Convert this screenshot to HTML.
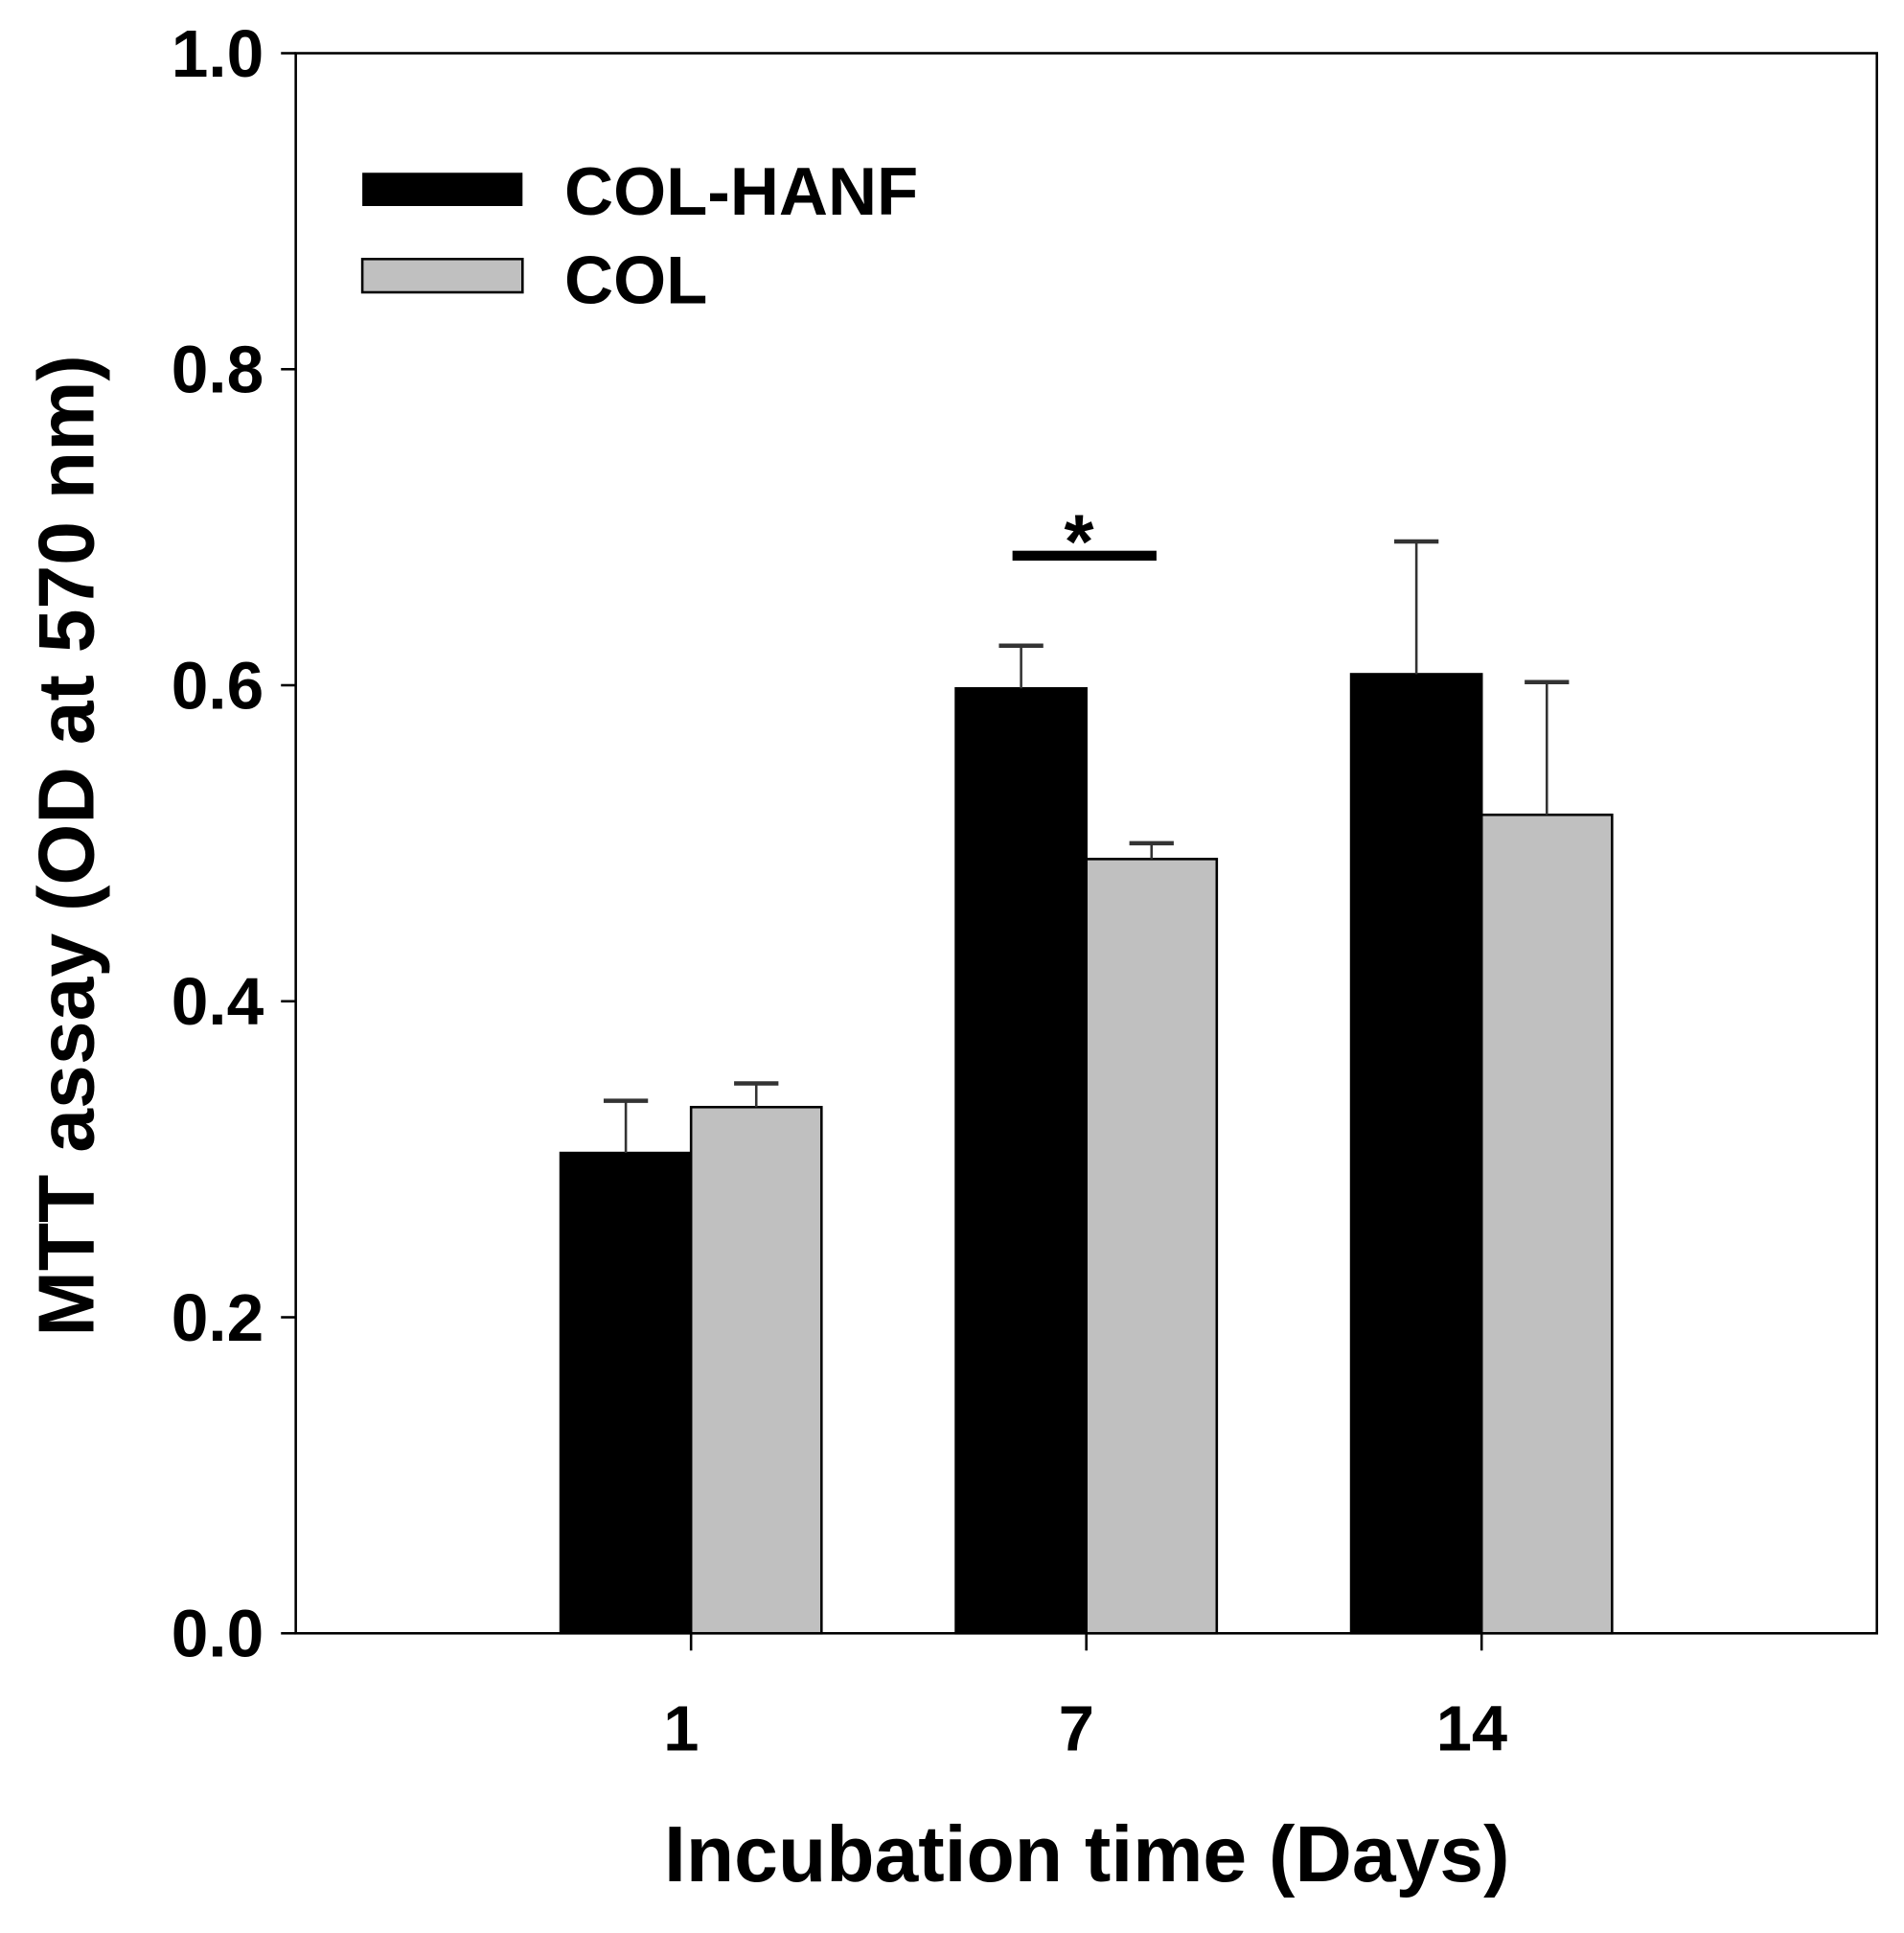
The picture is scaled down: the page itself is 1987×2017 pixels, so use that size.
<!DOCTYPE html>
<html><head><meta charset="utf-8"><style>
html,body{margin:0;padding:0;background:#fff}
svg{display:block}
text{font-family:"Liberation Sans",Arial,sans-serif;font-weight:bold;fill:#000}
</style></head><body>
<svg id="chart" width="1987" height="2017" viewBox="0 0 1545 1568" xmlns="http://www.w3.org/2000/svg">
<g id="plot"></g>
</svg>
<script>
const categories = ["1", "7", "14"];
const colHanf = [0.304, 0.598, 0.607];
const colHanfErr = [0.033, 0.027, 0.084];
const col = [0.333, 0.490, 0.518];
const colErr = [0.015, 0.010, 0.084];
const yTicks = [0.0, 0.2, 0.4, 0.6, 0.8, 1.0];
const yTickLabels = ["0.0", "0.2", "0.4", "0.6", "0.8", "1.0"];

const NS = "http://www.w3.org/2000/svg";
const L = 240, R = 1523, T = 43, B = 1325;
const xMin = 0, xMax = 4, yMin = 0, yMax = 1;
const barW = 0.33;
function xs(v){ return L + (v - xMin) / (xMax - xMin) * (R - L); }
function ys(v){ return B - (v - yMin) / (yMax - yMin) * (B - T); }
const g = document.getElementById('plot');
function el(tag, attrs, parent){
  const e = document.createElementNS(NS, tag);
  for (const k in attrs) e.setAttribute(k, attrs[k]);
  (parent || g).appendChild(e);
  return e;
}

categories.forEach((c, i) => {
  const cx = xs(i + 1);
  const b1 = el('rect', {x: xs(i + 1 - barW), y: ys(colHanf[i]), width: xs(i + 1) - xs(i + 1 - barW), height: ys(0) - ys(colHanf[i]), fill: '#000', stroke: '#000', 'stroke-width': 2});
  
  
  const b2 = el('rect', {x: cx, y: ys(col[i]), width: xs(i + 1 + barW) - cx, height: ys(0) - ys(col[i]), fill: '#c0c0c0', stroke: '#000', 'stroke-width': 2});
  
  
  [[i + 1 - barW / 2, colHanf[i], colHanfErr[i], 'col-hanf'], [i + 1 + barW / 2, col[i], colErr[i], 'col']].forEach(([xv, v, e, n]) => {
    const eg = el('g', {stroke: '#333', 'stroke-width': 2});
    
    
    el('line', {x1: xs(xv), x2: xs(xv), y1: ys(v), y2: ys(v + e)}, eg);
    el('line', {x1: xs(xv) - 18, x2: xs(xv) + 18, y1: ys(v + e), y2: ys(v + e), 'stroke-width': 3.5}, eg);
  });
  const tk = el('line', {x1: cx, x2: cx, y1: B, y2: B + 14, stroke: '#000', 'stroke-width': 2});
  
  
  const tl = el('text', {x: cx - 8, y: 1420, 'font-size': 52, 'text-anchor': 'middle'});
  tl.textContent = c;
  
  
});

const frame = el('rect', {x: L, y: T, width: R - L, height: B - T, fill: 'none', stroke: '#000', 'stroke-width': 2});



yTicks.forEach((v, i) => {
  const t = el('line', {x1: L - 12, x2: L, y1: ys(v), y2: ys(v), stroke: '#000', 'stroke-width': 2});
  
  
  const tx = el('text', {x: 214, y: ys(v) + 19, 'font-size': 54, 'text-anchor': 'end'});
  tx.textContent = yTickLabels[i];
  
  
});

const sig = el('g', {});


el('rect', {x: xs(2 - barW / 2) - 7, y: ys(0.682) - 4, width: xs(2 + barW / 2) - xs(2 - barW / 2) + 11, height: 8, fill: '#000'}, sig);
const star = el('text', {x: xs(2) - 6, y: ys(0.682) + 10, 'font-size': 62, 'text-anchor': 'middle'}, sig);
star.textContent = '*';
</script>
<svg style="position:absolute;left:0;top:0" width="1987" height="2017" viewBox="0 0 1545 1568" xmlns="http://www.w3.org/2000/svg">
<g>
<rect x="294" y="140" width="130" height="27" fill="#000"/>
<text x="458" y="174" font-size="55" style="font-family:'Liberation Sans',sans-serif;font-weight:bold">COL-HANF</text>
<rect x="294" y="210" width="130" height="27" fill="#c0c0c0" stroke="#000" stroke-width="2"/>
<text x="458" y="246" font-size="55" style="font-family:'Liberation Sans',sans-serif;font-weight:bold">COL</text>
</g>
<text x="882" y="1526" font-size="64" text-anchor="middle" style="font-family:'Liberation Sans',sans-serif;font-weight:bold">Incubation time (Days)</text>
<text transform="translate(76,686) rotate(-90)" font-size="64" text-anchor="middle" style="font-family:'Liberation Sans',sans-serif;font-weight:bold">MTT assay (OD at 570 nm)</text>
</svg>
</body></html>
